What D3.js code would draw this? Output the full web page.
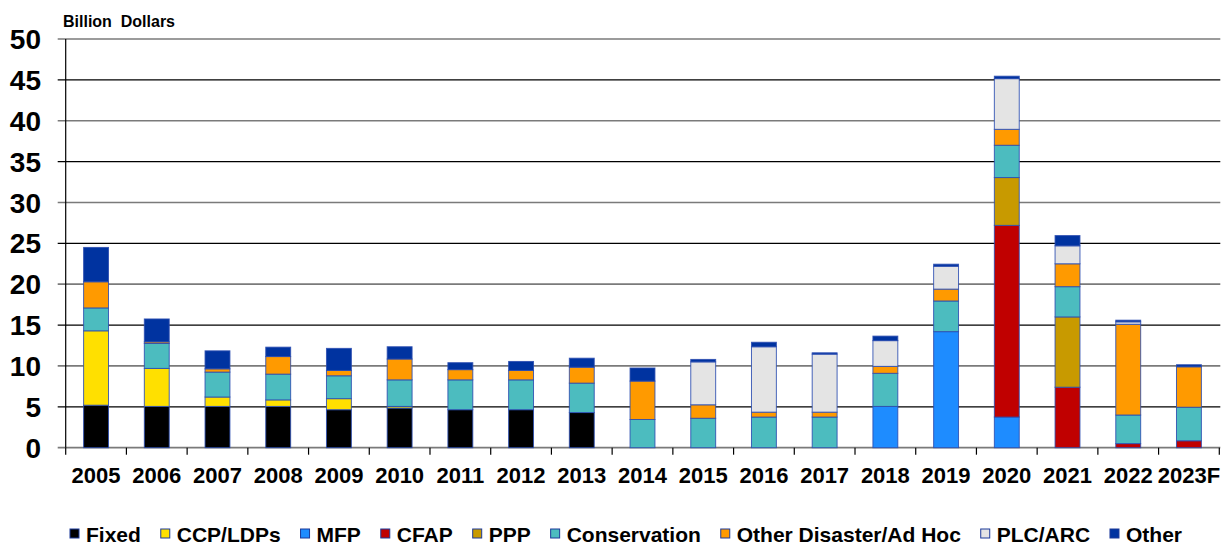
<!DOCTYPE html>
<html>
<head>
<meta charset="utf-8">
<script src="https://cdn.jsdelivr.net/npm/d3@7"></script>
<style>
  html, body { margin: 0; padding: 0; background: #fff; }
  svg { display: block; font-family: "Liberation Sans", Arial, Helvetica, sans-serif; }
</style>
</head>
<body>
<svg id="chart" width="1224" height="547"></svg>
<script>
// Government payments to farmers by program, billion dollars
const years = ["2005","2006","2007","2008","2009","2010","2011","2012","2013","2014",
               "2015","2016","2017","2018","2019","2020","2021","2022","2023F"];

const seriesNames = ["Fixed","CCP/LDPs","MFP","CFAP","PPP","Conservation",
                     "Other Disaster/Ad Hoc","PLC/ARC","Other"];

const fixed        = [5.2, 5.05, 5.05, 5.05, 4.65, 4.85, 4.65, 4.65, 4.3, 0, 0, 0, 0, 0, 0, 0, 0, 0, 0];
const ccpLdps      = [9.1, 4.65, 1.15, 0.8, 1.35, 0.2, 0, 0, 0, 0, 0, 0, 0, 0, 0, 0, 0, 0, 0];
const mfp          = [0, 0, 0, 0, 0, 0, 0, 0, 0, 0, 0, 0, 0, 5.05, 14.2, 3.75, 0, 0, 0];
const cfap         = [0, 0, 0, 0, 0, 0, 0, 0, 0, 0, 0, 0, 0, 0, 0, 23.45, 7.4, 0.5, 0.85];
const ppp          = [0, 0, 0, 0, 0, 0, 0, 0, 0, 0, 0, 0, 0, 0, 0, 5.85, 8.6, 0, 0];
const conservation = [2.8, 3.05, 3.05, 3.15, 2.8, 3.25, 3.65, 3.65, 3.6, 3.45, 3.6, 3.75, 3.75, 4.05, 3.75, 3.95, 3.7, 3.5, 4.1];
const otherDisaster= [3.2, 0.2, 0.4, 2.15, 0.65, 2.55, 1.25, 1.15, 1.95, 4.7, 1.65, 0.6, 0.6, 0.85, 1.45, 1.95, 2.8, 11.1, 4.95];
const plcArc       = [0, 0, 0, 0, 0, 0, 0, 0, 0, 0, 5.25, 8.0, 7.1, 3.15, 2.8, 6.2, 2.2, 0.3, 0];
const other        = [4.2, 2.8, 2.2, 1.15, 2.7, 1.5, 0.85, 1.1, 1.1, 1.6, 0.3, 0.55, 0.16, 0.55, 0.25, 0.3, 1.25, 0.2, 0.25];

const yTicks = [0, 5, 10, 15, 20, 25, 30, 35, 40, 45, 50];

const seriesValues = [fixed, ccpLdps, mfp, cfap, ppp, conservation, otherDisaster, plcArc, other];
const seriesColors = ["#000000", "#FFE000", "#1E8CFF", "#C00000", "#C89A00",
                      "#4CBCBF", "#FF9A00", "#E4E4E4", "#0033A0"];

// Build rows for d3.stack
const rows = years.map((yr, i) => {
  const r = { year: yr };
  seriesNames.forEach((k, j) => { r[k] = seriesValues[j][i]; });
  return r;
});

const svg = d3.select("#chart");
const plotLeft = 65.7, plotRight = 1219.3, plotTop = 39, plotBottom = 447.7;

const x = d3.scaleBand().domain(years).range([plotLeft, plotRight])
  .paddingInner(0.59).paddingOuter(0.295);
const y = d3.scaleLinear().domain([0, 50]).range([plotBottom, plotTop]);
const color = d3.scaleOrdinal().domain(seriesNames).range(seriesColors);

// Horizontal gridlines with outward tick stubs
svg.append("g").selectAll("line").data(yTicks).join("line")
  .attr("x1", plotLeft - 8).attr("x2", plotRight + 1)
  .attr("y1", d => y(d)).attr("y2", d => y(d))
  .attr("stroke", (d, i) => i % 2 === 0 ? "#7a7a7a" : "#000")
  .attr("stroke-width", (d, i) => i % 2 === 0 ? 1.7 : 1.1);

// Y tick labels
svg.append("g").selectAll("text").data(yTicks).join("text")
  .attr("x", 41).attr("y", d => y(d)).attr("dy", "0.36em")
  .attr("text-anchor", "end")
  .attr("font-size", 28).attr("font-weight", "bold").attr("fill", "#000")
  .text(d => d);

// Y axis line
svg.append("line")
  .attr("x1", plotLeft).attr("x2", plotLeft).attr("y1", plotTop).attr("y2", plotBottom)
  .attr("stroke", "#000").attr("stroke-width", 1.2);

// Unit label
svg.append("text")
  .attr("x", 63).attr("y", 27)
  .attr("font-size", 16).attr("font-weight", "bold")
  .style("white-space", "pre")
  .text("Billion  Dollars");

// Stacked bars
const stacked = d3.stack().keys(seriesNames)(rows);
svg.append("g").selectAll("g").data(stacked).join("g")
  .attr("fill", d => color(d.key))
  .selectAll("rect")
  .data(d => d.filter(s => s[1] - s[0] > 0))
  .join("rect")
  .attr("x", d => x(d.data.year))
  .attr("width", x.bandwidth())
  .attr("y", d => y(d[1]))
  .attr("height", d => y(d[0]) - y(d[1]))
  .attr("stroke", "#2a4cb0")
  .attr("stroke-opacity", 0.85)
  .attr("stroke-width", 1);

// X axis ticks at category boundaries
const bounds = years.map(yr => x(yr) - x.step() * x.paddingOuter());
bounds.push(plotRight);
svg.append("g").selectAll("line").data(bounds).join("line")
  .attr("x1", d => d).attr("x2", d => d)
  .attr("y1", plotBottom).attr("y2", plotBottom + 7)
  .attr("stroke", "#000").attr("stroke-width", 1.2);

// X tick labels
svg.append("g").selectAll("text").data(years).join("text")
  .attr("x", d => x(d) + x.bandwidth() / 2)
  .attr("y", 483)
  .attr("text-anchor", "middle")
  .attr("font-size", 22).attr("font-weight", "bold")
  .text(d => d);

// Legend, spread across the bottom
const legend = svg.append("g");
const items = legend.selectAll("g").data(seriesNames).join("g");
items.append("rect")
  .attr("width", 9).attr("height", 9).attr("y", 529)
  .attr("fill", d => color(d))
  .attr("stroke", "#1d3a9a").attr("stroke-width", 1);
items.append("text")
  .attr("x", 16).attr("y", 542)
  .attr("font-size", 21).attr("font-weight", "bold")
  .text(d => d);

const widths = [];
items.each(function () { widths.push(16 + d3.select(this).select("text").node().getComputedTextLength()); });
const startX = 70, endX = 1182;
const gap = (endX - startX - d3.sum(widths)) / (widths.length - 1);
let cx = startX;
items.attr("transform", (d, i) => {
  const t = `translate(${cx},0)`;
  cx += widths[i] + gap;
  return t;
});
</script>
</body>
</html>
